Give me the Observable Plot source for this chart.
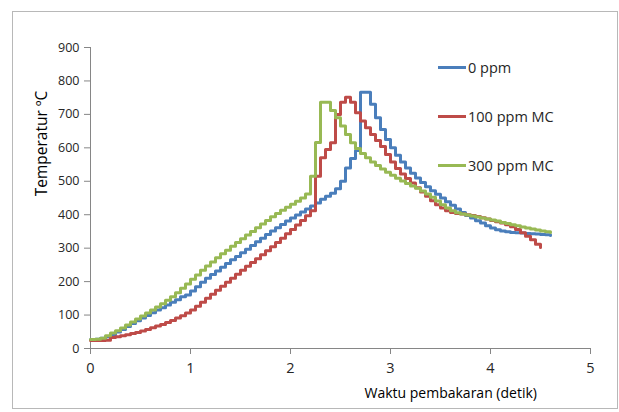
<!DOCTYPE html>
<html><head><meta charset="utf-8">
<script src="https://cdn.jsdelivr.net/npm/d3@7"></script>
<script src="https://cdn.jsdelivr.net/npm/@observablehq/plot@0.6"></script>
<style>
body{margin:0;background:#fff;}
#wrap{position:relative;width:619px;height:412px;overflow:hidden;font-family:"Open Sans",sans-serif;}
#chart{position:absolute;left:0;top:0;}
#frame{position:absolute;left:12px;top:11px;width:604px;height:396px;border:1px solid #b8b8b8;}
#legend{position:absolute;left:438px;top:0;}
.item{display:flex;align-items:center;height:20px;position:absolute;left:0;white-space:nowrap;font-size:14.5px;color:#262626;}
.sw{width:28px;height:3px;margin-right:2px;}
</style></head>
<body><div id="wrap"><div id="frame"></div><div id="chart"></div><div id="legend"></div></div>
<script>
const seriesNames = ["0 ppm", "100 ppm MC", "300 ppm MC"];
const seriesColors = ["#4a7ebb", "#be4b48", "#98b954"];
const xTicks = [0, 1, 2, 3, 4, 5];
const yTicks = [0, 100, 200, 300, 400, 500, 600, 700, 800, 900];
const xTitle = "Waktu pembakaran (detik)";
const yTitle = "Temperatur ºC";

const time = [0,0.05,0.1,0.15,0.2,0.25,0.3,0.35,0.4,0.45,0.5,0.55,0.6,0.65,0.7,0.75,0.8,0.85,0.9,0.95,
1,1.05,1.1,1.15,1.2,1.25,1.3,1.35,1.4,1.45,1.5,1.55,1.6,1.65,1.7,1.75,1.8,1.85,1.9,1.95,
2,2.05,2.1,2.15,2.2,2.25,2.3,2.35,2.4,2.45,2.5,2.55,2.6,2.65,2.7,2.75,2.8,2.85,2.9,2.95,
3,3.05,3.1,3.15,3.2,3.25,3.3,3.35,3.4,3.45,3.5,3.55,3.6,3.65,3.7,3.75,3.8,3.85,3.9,3.95,
4,4.05,4.1,4.15,4.2,4.25,4.3,4.35,4.4,4.45,4.5,4.55,4.6];

const temp0 = [27,28,31,35,41,49,57,66,75,83,91,99,107,115,122,130,138,146,155,160,
172,185,198,210,221,232,243,254,265,275,286,297,308,319,330,341,351,361,371,381,
390,399,408,417,426,435,446,455,464,478,500,540,568,592,766,766,730,690,655,625,
600,578,558,540,524,510,496,484,472,461,450,439,428,417,407,398,390,382,375,367,
360,355,351,349,347,346,345,344,343,342,341,340,338];

const temp100 = [24,24,24,25,33,35,38,41,45,48,52,57,62,67,72,78,84,91,98,106,
115,126,138,150,162,174,186,198,210,222,234,246,257,268,280,292,304,317,330,343,
356,369,383,397,412,515,570,595,615,700,736,751,736,705,680,660,640,622,604,580,
558,538,522,508,495,481,468,455,442,430,420,412,407,404,402,400,398,395,391,387,
383,379,375,370,364,356,346,336,325,312,302];

const temp300 = [27,28,31,38,46,53,61,70,79,88,97,106,115,124,134,144,155,167,180,193,
207,220,234,247,259,271,283,294,306,317,328,339,350,361,372,383,394,404,413,422,
431,440,450,462,515,616,736,736,712,690,665,640,615,598,583,570,558,547,537,527,
518,509,501,493,486,479,471,462,452,441,430,420,412,406,402,399,396,393,390,387,
384,381,377,374,370,367,363,360,357,354,351,349,347];

const seriesValues = [temp0, temp100, temp300];
const rows = seriesValues.flatMap((vals, i) => vals.map((v, j) => ({s: seriesNames[i], t: time[j], v})));

const chart = Plot.plot({
  width: 619, height: 412,
  marginLeft: 90, marginRight: 29, marginTop: 47, marginBottom: 64,
  style: {fontFamily: "Open Sans, sans-serif", background: "transparent", overflow: "visible"},
  x: {domain: [0, 5]},
  y: {domain: [0, 900]},
  color: {domain: seriesNames, range: seriesColors},
  marks: [
    Plot.ruleX([0], {stroke: "#868686", strokeWidth: 1}),
    Plot.ruleY([0], {stroke: "#868686", strokeWidth: 1}),
    Plot.axisY({ticks: yTicks, tickFormat: "d", tickSize: 6, tickPadding: 5, stroke: "#868686", fill: "#262626", fontSize: 12.5, label: null}),
    Plot.axisX({ticks: xTicks, tickFormat: "d", tickSize: 6, tickPadding: 8, stroke: "#868686", fill: "#262626", fontSize: 14.5, label: null}),
    Plot.line(rows, {x: "t", y: "v", z: "s", stroke: "s", curve: "step-after", strokeWidth: 3}),
    Plot.text([yTitle], {frameAnchor: "top-left", dx: -55, dy: 96, rotate: -90, textAnchor: "middle", fontSize: 15.5, fill: "#000"}),
    Plot.text([xTitle], {frameAnchor: "bottom-left", dx: 274, dy: 49, textAnchor: "start", fontSize: 14, fill: "#000"})
  ]
});
document.getElementById("chart").appendChild(chart);

const legendTops = [57, 106, 155];
const legend = document.getElementById("legend");
seriesNames.forEach((n, i) => {
  const it = document.createElement("div");
  it.className = "item";
  it.style.top = legendTops[i] + "px";
  const sw = document.createElement("span");
  sw.className = "sw";
  sw.style.background = seriesColors[i];
  const lb = document.createElement("span");
  lb.textContent = n;
  it.appendChild(sw); it.appendChild(lb);
  legend.appendChild(it);
});
</script>
</body></html>
